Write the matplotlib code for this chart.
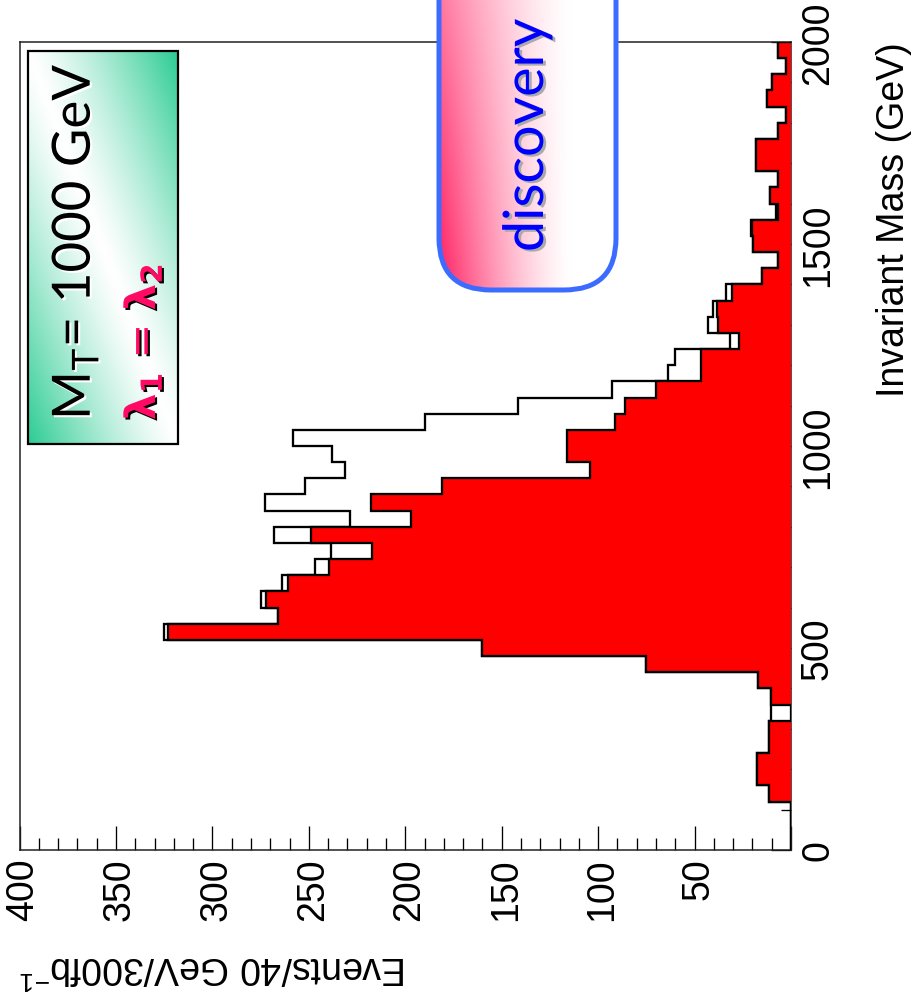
import numpy as np
import matplotlib
matplotlib.use("Agg")
import matplotlib.pyplot as plt
from matplotlib import transforms as mtransforms
from matplotlib.patches import FancyBboxPatch, Rectangle
from matplotlib.ticker import MultipleLocator
import matplotlib.patheffects as pe

# ---------------------------------------------------------------- data
# invariant-mass binning: 50 bins of 40 GeV from 0 to 2000 GeV
mass_edges = np.arange(0, 2001, 40)

# background (filled red) events per 40 GeV bin
background = [
    0, 0, 0, 11.4, 17.5, 17.5, 11.4, 11.4, 0, 10.4,
    17, 75, 160, 323, 266, 272, 260.6, 239.5, 217, 249,
    197, 217.5, 181, 104, 116.3, 116.3, 91, 86, 70, 46.7,
    46.7, 26.8, 38, 38.5, 30.7, 15.2, 6.6, 19.5, 20, 6.6,
    10.9, 6.6, 18.3, 18.3, 6.6, 2.6, 12.6, 10, 2.4, 6.6,
]

# signal + background (open histogram) events per 40 GeV bin
total = [
    0, 0, 0, 11.4, 17.5, 17.5, 11.4, 11.4, 10.2, 10.4,
    17, 75, 160, 325, 266, 275, 264, 246.8, 238.5, 268,
    228.6, 272.7, 252, 231, 238, 258, 190, 141.5, 93, 63.7,
    60, 31.7, 42.9, 40.3, 33.7, 15.2, 6.6, 19.5, 20.5, 8,
    10.9, 6.6, 18.3, 18.3, 6.6, 2.6, 12.6, 10, 2.4, 6.6,
]

event_tick_labels = [50, 100, 150, 200, 250, 300, 350, 400]
mass_tick_labels = [0, 500, 1000, 1500, 2000]

mass_title = "Invariant Mass (GeV)"
events_title = r"Events/40 GeV/300fb$^{\mathregular{-1}}$"
info_line1 = r"M$_{\mathregular{T}}$= 1000 GeV"
info_line2 = r"$\mathbf{\lambda}_\mathbf{1}$ = $\mathbf{\lambda}_\mathbf{2}$"
banner_text = "discovery"

# ---------------------------------------------------------------- figure
W, H = 911, 1003
fig = plt.figure(figsize=(W / 100, H / 100), dpi=100)
fig.patch.set_facecolor("white")

LABEL_FONT = "Liberation Sans"
LABEL_SIZE = 27


def fx(x):
    return x / W


def fy(y):
    return 1 - y / H


# main frame (drawn turned on its side: mass runs upward, events run leftward)
ax_l, ax_r, ax_t, ax_b = 19.5, 791, 43, 851
ax = fig.add_axes([fx(ax_l), fy(ax_b), (ax_r - ax_l) / W, (ax_b - ax_t) / H])
ax.set_facecolor("white")

ax.stairs(total, mass_edges, orientation="horizontal", fill=False,
          edgecolor="black", linewidth=1.65, zorder=2)
ax.stairs(background, mass_edges, orientation="horizontal", fill=True,
          facecolor="#ff0000", edgecolor="none", linewidth=0, zorder=3)
ax.stairs(background, mass_edges, orientation="horizontal", fill=False,
          edgecolor="black", linewidth=1.65, zorder=4)

ax.set_xlim(400, 0)
ax.set_ylim(0, 2000)

ax.set_axisbelow(True)
for side, sp in ax.spines.items():
    sp.set_linewidth(1.1)
    sp.set_color("#222222")
    sp.set_zorder(0.6)

ax.xaxis.set_major_locator(MultipleLocator(50))
ax.xaxis.set_minor_locator(MultipleLocator(10))
ax.yaxis.set_major_locator(MultipleLocator(500))
ax.yaxis.set_minor_locator(MultipleLocator(100))
ax.tick_params(axis="x", which="both", direction="in", bottom=True, top=False,
               labelbottom=False, width=0.95, color="black")
ax.tick_params(axis="x", which="major", length=17.3)
ax.tick_params(axis="x", which="minor", length=8.6)
ax.tick_params(axis="y", which="both", direction="in", left=False, right=True,
               labelleft=False, labelright=False, width=0.95, color="black")
ax.tick_params(axis="y", which="major", length=14.4)
ax.tick_params(axis="y", which="minor", length=7.2)

# event-count labels below the frame
trans_ev = mtransforms.blended_transform_factory(ax.transData, ax.transAxes)
for v in event_tick_labels:
    ax.text(v, 0, f"{v}",
            transform=mtransforms.offset_copy(trans_ev, fig=fig, x=14, y=-7, units="dots"),
            rotation=90, rotation_mode="anchor", ha="right", va="baseline",
            fontsize=LABEL_SIZE, family=LABEL_FONT, clip_on=False)

# mass labels to the right of the frame
trans_m = mtransforms.blended_transform_factory(ax.transAxes, ax.transData)
for m in mass_tick_labels:
    ax.text(1, m, f"{m}",
            transform=mtransforms.offset_copy(trans_m, fig=fig, x=37, y=0, units="dots"),
            rotation=90, rotation_mode="anchor", ha="center", va="baseline",
            fontsize=LABEL_SIZE, family=LABEL_FONT, clip_on=False)

# axis titles
fig.text(fx(904), fy(42), mass_title, rotation=90, rotation_mode="anchor",
         ha="right", va="baseline", fontsize=LABEL_SIZE, family=LABEL_FONT)
fig.text(fx(407), fy(956), events_title, rotation=180, rotation_mode="anchor",
         ha="left", va="baseline", fontsize=LABEL_SIZE, family=LABEL_FONT)

# ---------------------------------------------------------------- overlay decorations
deco = fig.add_axes([0, 0, 1, 1], zorder=5)
deco.axis("off")

# parameter box with a diagonal green-white gradient
bx0, bx1, by0, by1 = 28, 178, 52, 445
nu, nv = 150, 393
u = np.linspace(0, 1, nu)[None, :]
v = np.linspace(0, 1, nv)[:, None]
t = np.clip(np.abs(u - v), 0, 1) ** 1.25
green = np.array([0.17, 0.80, 0.58])
grad = 1 - t[..., None] * (1 - green)
deco.imshow(grad, extent=(bx0, bx1, by1, by0), origin="upper",
            aspect="auto", interpolation="bilinear", zorder=1)
deco.add_patch(Rectangle((bx0, by0), bx1 - bx0, by1 - by0, fill=False,
                         edgecolor="black", linewidth=1.6, zorder=2))

deco.text(90, 421, info_line1, rotation=90, rotation_mode="anchor",
          ha="left", va="baseline", fontsize=38, family="Lato", color="black",
          zorder=3,
          path_effects=[pe.SimplePatchShadow(offset=(1.5, -1.5), shadow_rgbFace="white", alpha=1.0),
                        pe.Normal()])
deco.text(155, 421, info_line2, rotation=90, rotation_mode="anchor",
          ha="left", va="baseline", fontsize=30, color="#ff0a64", zorder=3,
          path_effects=[pe.SimplePatchShadow(offset=(1.5, -1.5), shadow_rgbFace="black", alpha=1.0),
                        pe.Normal()])

# rounded banner with a red-to-white gradient, running off the top edge
cx0, cx1, cy0, cy1 = 439, 616, -120, 291
banner = FancyBboxPatch((cx0, cy0), cx1 - cx0, cy1 - cy0,
                        boxstyle="round,pad=0,rounding_size=52",
                        facecolor="none", edgecolor="#3c6cff", linewidth=3.6, zorder=3)
deco.add_patch(banner)
gx = np.linspace(0, 1, 180)[None, :]
gy = np.linspace(0, 1, 411)[:, None]
s = np.clip(1 - gx / 0.75, 0, 1) ** 1.4 * (0.45 + 0.55 * gy)
pink = np.array([1.0, 0.12, 0.38])
bgrad = 1 - s[..., None] * (1 - pink)
bim = deco.imshow(bgrad, extent=(cx0, cx1, cy1, cy0), origin="upper",
                  aspect="auto", interpolation="bilinear", zorder=2)
bim.set_clip_path(banner)

deco.text(543, 253, banner_text, rotation=90, rotation_mode="anchor",
          ha="left", va="baseline", fontsize=40, family="Lato", color="#0000ff",
          zorder=4,
          path_effects=[pe.SimplePatchShadow(offset=(2, -1.5), shadow_rgbFace="#aaaaaa", alpha=1.0),
                        pe.Normal()])

deco.set_xlim(0, W)
deco.set_ylim(H, 0)

fig.savefig("out.png", dpi=100, facecolor="white")
